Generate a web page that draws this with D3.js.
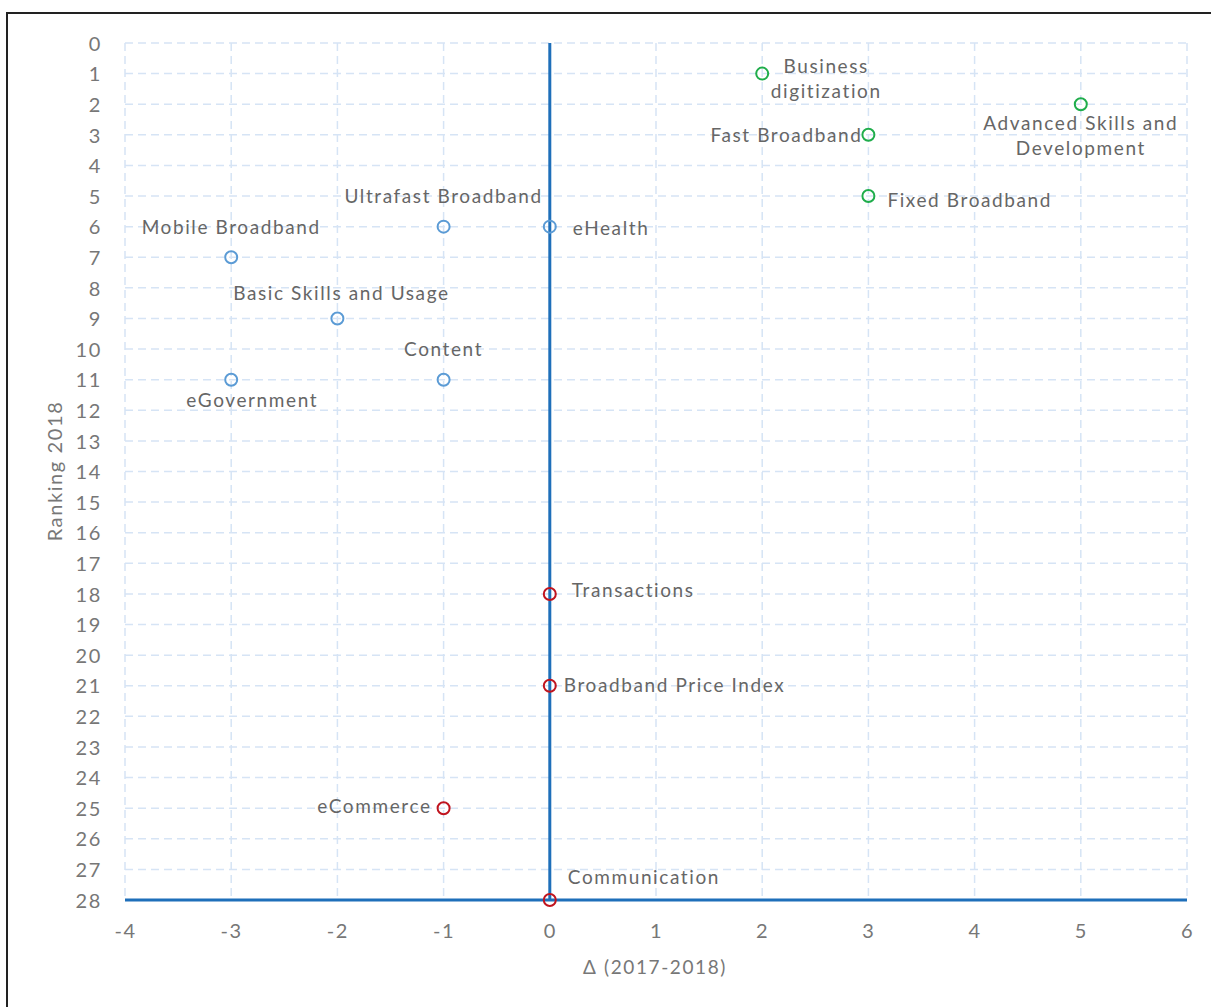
<!DOCTYPE html>
<html>
<head>
<meta charset="utf-8">
<script src="https://cdn.jsdelivr.net/npm/d3@7"></script>
<style>
  body { margin: 0; background: #fff; }
  svg { display: block; font-family: Lato, "Open Sans", sans-serif; }
  text { letter-spacing: 1.6px; }
</style>
</head>
<body>
<script>
// indicators, change 2017-2018 vs ranking 2018
const names = ["Business\ndigitization", "Advanced Skills and\nDevelopment", "Fast Broadband", "Fixed Broadband",
  "Ultrafast Broadband", "eHealth", "Mobile Broadband", "Basic Skills and Usage", "Content", "eGovernment",
  "Transactions", "Broadband Price Index", "eCommerce", "Communication"];
const delta = [2, 5, 3, 3, -1, 0, -3, -2, -1, -3, 0, 0, -1, 0];
const ranking = [1, 2, 3, 5, 6, 6, 7, 9, 11, 11, 18, 21, 25, 28];
const group = ["up", "up", "up", "up", "mid", "mid", "mid", "mid", "mid", "mid", "down", "down", "down", "down"];
const xTicks = [-4, -3, -2, -1, 0, 1, 2, 3, 4, 5, 6];
const yTicks = d3.range(0, 29);

// label placement (pixel offsets from the marker) and anchor
const labelOff = [[64, -7, "middle"], [0, 19, "middle"], [-6, 1, "end"], [19, 4, "start"],
  [0, -30, "middle"], [23, 2, "start"], [0, -30, "middle"], [4, -25, "middle"], [0, -30, "middle"], [21, 21, "middle"],
  [22, -4, "start"], [14, 0, "start"], [-12, -2, "end"], [18, -23, "start"]];

const colors = { up: "#1fad4b", mid: "#5b9bd5", down: "#c0141e" };
const W = 1211, H = 1007;
const svg = d3.select("body").append("svg").attr("width", W).attr("height", H);

svg.append("rect").attr("x", 7).attr("y", 13).attr("width", 1240).attr("height", 1040)
  .attr("fill", "none").attr("stroke", "#222").attr("stroke-width", 2);

const x = d3.scaleLinear().domain([-4, 6]).range([125, 1187]);
const y = d3.scaleLinear().domain([0, 28]).range([43, 900]);

// grid
svg.append("g").selectAll("line").data(xTicks).join("line")
  .attr("x1", d => x(d)).attr("x2", d => x(d)).attr("y1", y(0)).attr("y2", y(28))
  .attr("stroke", "#d6e4f5").attr("stroke-width", 1.5).attr("stroke-dasharray", "8,5");
svg.append("g").selectAll("line").data(yTicks).join("line")
  .attr("y1", d => y(d)).attr("y2", d => y(d)).attr("x1", x(-4)).attr("x2", x(6))
  .attr("stroke", "#d6e4f5").attr("stroke-width", 1.5).attr("stroke-dasharray", "8,5");

// axes
const xAxis = svg.append("g").attr("transform", `translate(0,${y(28)})`)
  .call(d3.axisBottom(x).tickValues(xTicks).tickSize(0).tickPadding(24).tickFormat(d => String(d)));
const yAxis = svg.append("g").attr("transform", `translate(${x(-4)},0)`)
  .call(d3.axisLeft(y).tickValues(yTicks).tickSize(0).tickPadding(23).tickFormat(d => String(d)));
[xAxis, yAxis].forEach(a => {
  a.select(".domain").remove();
  a.selectAll("text").attr("font-size", 20).attr("fill", "#777").attr("font-family", "Lato, sans-serif");
});
yAxis.selectAll("text").attr("dy", "0.36em");

// zero lines
svg.append("line").attr("x1", x(0)).attr("x2", x(0)).attr("y1", y(0)).attr("y2", y(28))
  .attr("stroke", "#1e6fba").attr("stroke-width", 3);
svg.append("line").attr("x1", x(-4)).attr("x2", x(6)).attr("y1", y(28)).attr("y2", y(28))
  .attr("stroke", "#1e6fba").attr("stroke-width", 3);

// axis titles
svg.append("text").attr("x", 655).attr("y", 967).attr("text-anchor", "middle").attr("dy", "0.35em")
  .attr("font-size", 19).attr("fill", "#777").text("Δ (2017-2018)");
svg.append("text").attr("transform", "translate(55,471) rotate(-90)").attr("text-anchor", "middle")
  .attr("dy", "0.35em").attr("font-size", 20).attr("letter-spacing", "2.2px").attr("fill", "#777").text("Ranking 2018");

// points
const pts = names.map((n, i) => ({ n, dx: delta[i], r: ranking[i], g: group[i], off: labelOff[i] }));
svg.append("g").selectAll("circle").data(pts).join("circle")
  .attr("cx", d => x(d.dx)).attr("cy", d => y(d.r)).attr("r", 6)
  .attr("fill", "none").attr("stroke", d => colors[d.g]).attr("stroke-width", 2);

const labels = svg.append("g").selectAll("text").data(pts).join("text")
  .attr("text-anchor", d => d.off[2]).attr("font-size", 19).attr("fill", "#666");
labels.each(function(d) {
  const lines = d.n.split("\n");
  const t = d3.select(this);
  lines.forEach((l, k) => {
    t.append("tspan").attr("x", x(d.dx) + d.off[0])
      .attr("y", y(d.r) + d.off[1] + k * 25).attr("dy", "0.35em").text(l);
  });
});
</script>
</body>
</html>
